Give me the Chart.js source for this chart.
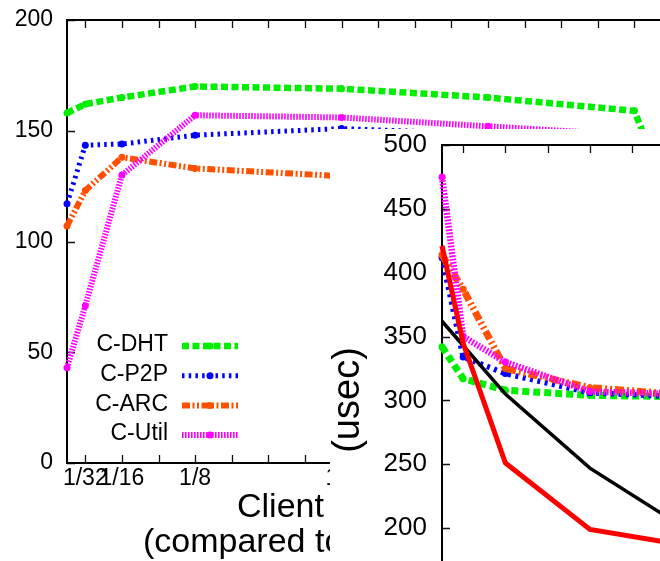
<!DOCTYPE html>
<html>
<head>
<meta charset="utf-8">
<script src="https://cdn.jsdelivr.net/npm/chart.js@4.4.1/dist/chart.umd.min.js"></script>
<style>
html, body { margin: 0; padding: 0; width: 660px; height: 561px; overflow: hidden; background: #fff; }
#main { position: absolute; left: 0; top: 0; }
#inset { position: absolute; left: 330px; top: 129px; }
</style>
</head>
<body>
<canvas id="main" width="1240" height="561"></canvas>
<canvas id="inset" width="450" height="480"></canvas>
<script>
// main plot, client share on x
const mainX = [1/64, 1/32, 1/16, 1/8, 1/4, 3/8, 1/2];
const dhtX = [1/64, 1/32, 1/16, 1/8, 1/4, 3/8, 1/2, 9/16];
const dhtY = [158, 162, 165, 170, 169, 165, 159, 75];
const p2pY = [117, 143.5, 144, 148, 151, 148.5, 147];
const arcY = [107, 123, 138, 133, 129.5, 128, 127];
const utilY = [43, 71, 130, 157, 156, 152, 148];

// inset (usec)
const insetX = [1/64, 1/32, 1/16, 1/8, 3/16, 1/4];
const insetDht = [342, 317, 308, 304, 303, 302];
const insetP2p = [412, 334, 321, 306, 303, 302];
const insetArc = [414, 387, 325, 310, 305, 304];
const insetUtil = [475, 350, 330, 307, 305, 304];
const insetBlack = [362, 343, 305, 247, 205, 180];
const insetRed = [421, 345, 251, 199, 188, 182];

const xTickValues = [1/32, 1/16, 1/8, 1/4, 1/2, 1];
const xTickLabels = ['1/32', '1/16', '1/8', '1/4', '1/2', '1'];
const mainTickMarks = Array.from({length: 32}, (_, k) => (k + 1) / 32);
const insetTickMarks = Array.from({length: 8}, (_, k) => (k + 1) / 32);

Chart.defaults.font.family = "'Liberation Sans', Arial, sans-serif";
Chart.defaults.color = '#000';

const pts = (xs, ys) => xs.map((x, i) => ({x: x, y: ys[i]}));

function series(label, data, color, dash, width, order, radius) {
    return {
        label: label,
        data: data,
        borderColor: color,
        backgroundColor: color,
        borderDash: dash,
        borderWidth: width,
        borderCapStyle: 'butt',
        pointRadius: radius === undefined ? 3.5 : radius,
        pointHoverRadius: 0,
        pointBorderWidth: 0,
        pointBackgroundColor: color,
        tension: 0,
        clip: false,
        order: order
    };
}

// gnuplot style frame with inward ticks
const frame = {
    id: 'frame',
    beforeDatasetsDraw(chart) {
        const {ctx, chartArea: a, scales: {x, y}} = chart;
        ctx.save();
        ctx.strokeStyle = '#111';
        ctx.lineWidth = 1.3;
        ctx.beginPath();
        x.ticks.forEach(t => {
            const px = Math.round(x.getPixelForValue(t.value)) + 0.5;
            ctx.moveTo(px, a.bottom); ctx.lineTo(px, a.bottom - 8);
            ctx.moveTo(px, a.top); ctx.lineTo(px, a.top + 8);
        });
        y.ticks.forEach(t => {
            const py = Math.round(y.getPixelForValue(t.value)) + 0.5;
            ctx.moveTo(a.left, py); ctx.lineTo(a.left + 8, py);
            ctx.moveTo(a.right, py); ctx.lineTo(a.right - 8, py);
        });
        ctx.stroke();
        ctx.lineWidth = 2;
        ctx.strokeStyle = '#000';
        ctx.strokeRect(a.left, a.top, a.right - a.left, a.bottom - a.top);
        ctx.restore();
    }
};

const mainText = {
    id: 'mainText',
    afterDraw(chart) {
        const ctx = chart.ctx;
        ctx.save();
        // key
        ctx.font = "23px 'Liberation Sans', Arial, sans-serif";
        ctx.textAlign = 'right';
        ctx.textBaseline = 'middle';
        chart.data.datasets.forEach((ds, i) => {
            const cy = 346 + i * 29.7;
            ctx.fillStyle = '#000';
            ctx.fillText(ds.label, 168, cy - 1);
            ctx.strokeStyle = ds.borderColor;
            ctx.lineWidth = ds.borderWidth;
            ctx.lineCap = 'butt';
            ctx.setLineDash(ds.borderDash);
            ctx.beginPath();
            ctx.moveTo(182, cy); ctx.lineTo(238, cy);
            ctx.stroke();
            ctx.setLineDash([]);
            ctx.fillStyle = ds.borderColor;
            ctx.beginPath();
            ctx.arc(210, cy, 3.5, 0, Math.PI * 2);
            ctx.fill();
        });
        // x title
        ctx.fillStyle = '#000';
        ctx.font = "34px 'Liberation Sans', Arial, sans-serif";
        ctx.textAlign = 'left';
        ctx.textBaseline = 'alphabetic';
        ctx.fillText('Client cache size', 237, 517);
        ctx.fillText('(compared to total data size)', 143, 552);
        ctx.restore();
    }
};

new Chart(document.getElementById('main'), {
    type: 'line',
    data: {
        datasets: [
            series('C-DHT', pts(dhtX, dhtY), '#00ee00', [7, 3.5], 6.5, 4),
            series('C-P2P', pts(mainX, p2pY), '#0000ff', [2.5, 4.2], 5, 3),
            series('C-ARC', pts(mainX, arcY), '#ff5000', [8, 2.5, 2, 2.5, 2, 2.5], 6, 2),
            series('C-Util', pts(mainX, utilY), '#ff00ff', [1.6, 1.4], 6, 1)
        ]
    },
    options: {
        responsive: false,
        animation: false,
        devicePixelRatio: 1,
        layout: {padding: {top: 20, right: 20, left: 0, bottom: 0}},
        plugins: {legend: {display: false}, tooltip: {enabled: false}},
        scales: {
            x: {
                type: 'linear',
                min: 1/64,
                max: 1,
                grid: {display: false, drawTicks: true, tickLength: 2},
                border: {display: false},
                afterBuildTicks: s => { s.ticks = mainTickMarks.map(v => ({value: v})); },
                afterFit: s => { s.height = 98; },
                ticks: {
                    autoSkip: false,
                    maxRotation: 0,
                    padding: 0,
                    font: {size: 23},
                    callback: v => {
                        const i = xTickValues.findIndex(t => Math.abs(t - v) < 1e-9);
                        return i >= 0 ? xTickLabels[i] : '';
                    }
                }
            },
            y: {
                min: 0,
                max: 200,
                grid: {display: false, drawTicks: true, tickLength: 14},
                border: {display: false},
                afterFit: s => { s.width = 67; },
                ticks: {stepSize: 50, padding: 0, font: {size: 23}}
            }
        }
    },
    plugins: [frame, mainText]
});

const insetText = {
    id: 'insetText',
    beforeDraw(chart) {
        const ctx = chart.ctx;
        ctx.save();
        ctx.fillStyle = '#fff';
        ctx.fillRect(0, 0, chart.width, chart.height);
        ctx.restore();
    },
    afterDraw(chart) {
        const ctx = chart.ctx;
        ctx.save();
        ctx.translate(19, 271);
        ctx.rotate(-Math.PI / 2);
        ctx.font = "38px 'Liberation Sans', Arial, sans-serif";
        ctx.fillStyle = '#000';
        ctx.textAlign = 'center';
        ctx.textBaseline = 'middle';
        ctx.fillText('(usec)', 0, 0);
        ctx.restore();
    }
};

new Chart(document.getElementById('inset'), {
    type: 'line',
    data: {
        datasets: [
            series('C-DHT', pts(insetX, insetDht), '#00ee00', [7, 4], 7, 6),
            series('C-P2P', pts(insetX, insetP2p), '#0000ff', [3, 4.5], 5.5, 5),
            series('C-ARC', pts(insetX, insetArc), '#ff5000', [9, 3, 2, 3, 2, 3], 7, 4),
            series('C-Util', pts(insetX, insetUtil), '#ff00ff', [1.8, 1.5], 6.5, 3),
            series('Black', pts(insetX, insetBlack), '#000000', [], 3.5, 2, 0),
            series('Red', pts(insetX, insetRed), '#ff0000', [], 5, 1, 0)
        ]
    },
    options: {
        responsive: false,
        animation: false,
        devicePixelRatio: 1,
        layout: {padding: {top: 16, right: 21, left: 0, bottom: 0}},
        plugins: {legend: {display: false}, tooltip: {enabled: false}},
        scales: {
            x: {
                type: 'linear',
                min: 1/64,
                max: 1/4,
                grid: {display: false, drawTicks: false},
                border: {display: false},
                afterBuildTicks: s => { s.ticks = insetTickMarks.map(v => ({value: v})); },
                afterFit: s => { s.height = 17; },
                ticks: {display: false}
            },
            y: {
                min: 150,
                max: 500,
                grid: {display: false, drawTicks: true, tickLength: 15},
                border: {display: false},
                afterFit: s => { s.width = 112; },
                ticks: {stepSize: 50, padding: 0, font: {size: 26}}
            }
        }
    },
    plugins: [insetText, frame]
});
</script>
</body>
</html>
